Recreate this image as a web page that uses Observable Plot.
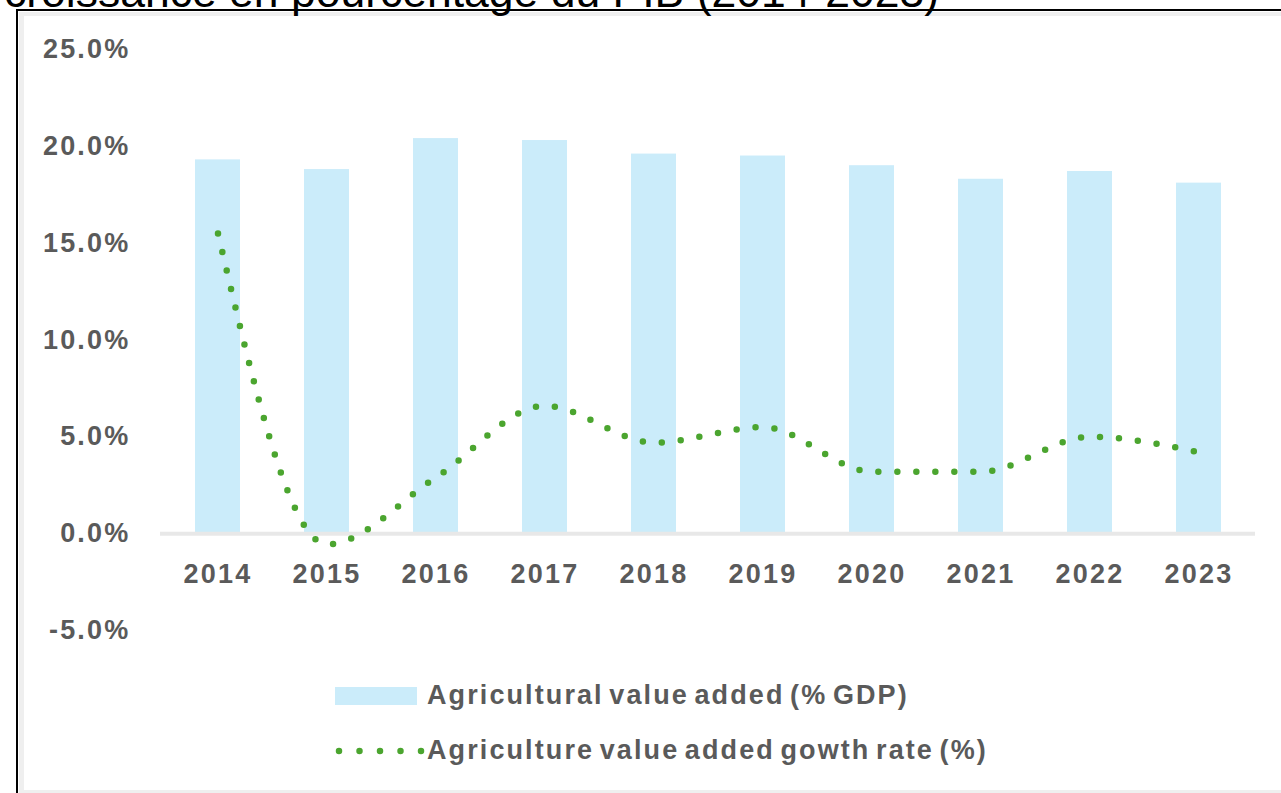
<!DOCTYPE html>
<html>
<head>
<meta charset="utf-8">
<script src="https://cdn.jsdelivr.net/npm/d3@7"></script>
<script src="https://cdn.jsdelivr.net/npm/@observablehq/plot@0.6"></script>
<style>
  html, body { margin: 0; padding: 0; background: #fff; }
  body { width: 1281px; height: 793px; position: relative; overflow: hidden; font-family: "Liberation Sans", Arial, sans-serif; }
  #title { position: absolute; left: 4px; top: -30px; font-size: 44.5px; line-height: 44px; white-space: nowrap; color: #000; }
  #frameBlack { position: absolute; left: 16px; top: 9px; width: 1400px; height: 900px; border-left: 2.5px solid #000; border-top: 2.5px solid #000; }
  #frameGrayL { position: absolute; left: 19px; top: 12px; width: 5px; height: 800px; background: #efefef; }
  #frameGrayT { position: absolute; left: 19px; top: 12px; width: 1300px; height: 4px; background: #efefef; }
  #frameGrayB { position: absolute; left: 19px; top: 790px; width: 1300px; height: 4px; background: #efefef; }
  #chart { position: absolute; left: 0; top: 0; }
  .leg { position: absolute; left: 335px; display: flex; align-items: center; font-size: 27px; font-weight: bold; color: #5a5a5a; letter-spacing: 2.1px; word-spacing: -4px; white-space: nowrap; }
  .leg .sw { width: 82px; height: 18px; margin-right: 10px; display: inline-block; }
</style>
</head>
<body>
<div id="frameBlack"></div>
<div id="frameGrayL"></div>
<div id="frameGrayT"></div>
<div id="frameGrayB"></div>
<div id="title">croissance en pourcentage du PIB (2014-2023)</div>
<div id="chart"></div>
<div class="leg" id="leg1" style="top:680px;"></div>
<div class="leg" id="leg2" style="top:735px;"></div>
<script>
const years = ["2014","2015","2016","2017","2018","2019","2020","2021","2022","2023"];
const agriShare = [19.3, 18.8, 20.4, 20.3, 19.6, 19.5, 19.0, 18.3, 18.7, 18.1];
const growthRate = [15.5, -0.55, 2.9, 6.6, 4.7, 5.5, 3.2, 3.2, 5.0, 4.2];
const yTicks = [-5, 0, 5, 10, 15, 20, 25];
const seriesNames = ["Agricultural value added (% GDP)", "Agriculture value added gowth rate (%)"];

const barColor = "#cbecfa";
const lineColor = "#4ba52f";
const textColor = "#5a5a5a";

const barData = years.map((y, i) => ({year: y, value: agriShare[i]}));
const lineData = years.map((y, i) => ({year: y, value: growthRate[i]}));

const chart = Plot.plot({
  width: 1281,
  height: 660,
  marginLeft: 160,
  marginRight: 26,
  marginTop: 49,
  marginBottom: 30,
  style: {fontFamily: "Liberation Sans, Arial, sans-serif", fontSize: "27px", fontWeight: "bold", letterSpacing: "2.2px", color: textColor, background: "transparent", overflow: "visible"},
  x: {type: "band", domain: years, paddingInner: 0.588, paddingOuter: 0.30},
  y: {domain: [-5, 25]},
  marks: [
    Plot.axisY(yTicks, {tickSize: 0, tickPadding: 30, label: null, tickFormat: d => d.toFixed(1) + "%"}),
    Plot.axisX({tickSize: 0, tickPadding: 0, label: null, dy: -67}),
    Plot.barY(barData, {x: "year", y: "value", fill: barColor}),
    Plot.ruleY([0], {stroke: "#e8e8e8", strokeWidth: 4}),
    Plot.line(lineData, {x: "year", y: "value", curve: "monotone-x", stroke: lineColor, strokeWidth: 6.5, strokeDasharray: "0 19", strokeLinecap: "round"})
  ]
});
document.getElementById("chart").appendChild(chart);

const leg1 = document.getElementById("leg1");
leg1.innerHTML = `<span class="sw" style="background:${barColor}"></span><span>${seriesNames[0]}</span>`;
const leg2 = document.getElementById("leg2");
leg2.innerHTML = `<svg width="92" height="28" style="margin-right:0px"><line x1="4" y1="14" x2="88" y2="14" stroke="${lineColor}" stroke-width="6.5" stroke-linecap="round" stroke-dasharray="0 20.5"/></svg><span>${seriesNames[1]}</span>`;
</script>
</body>
</html>
